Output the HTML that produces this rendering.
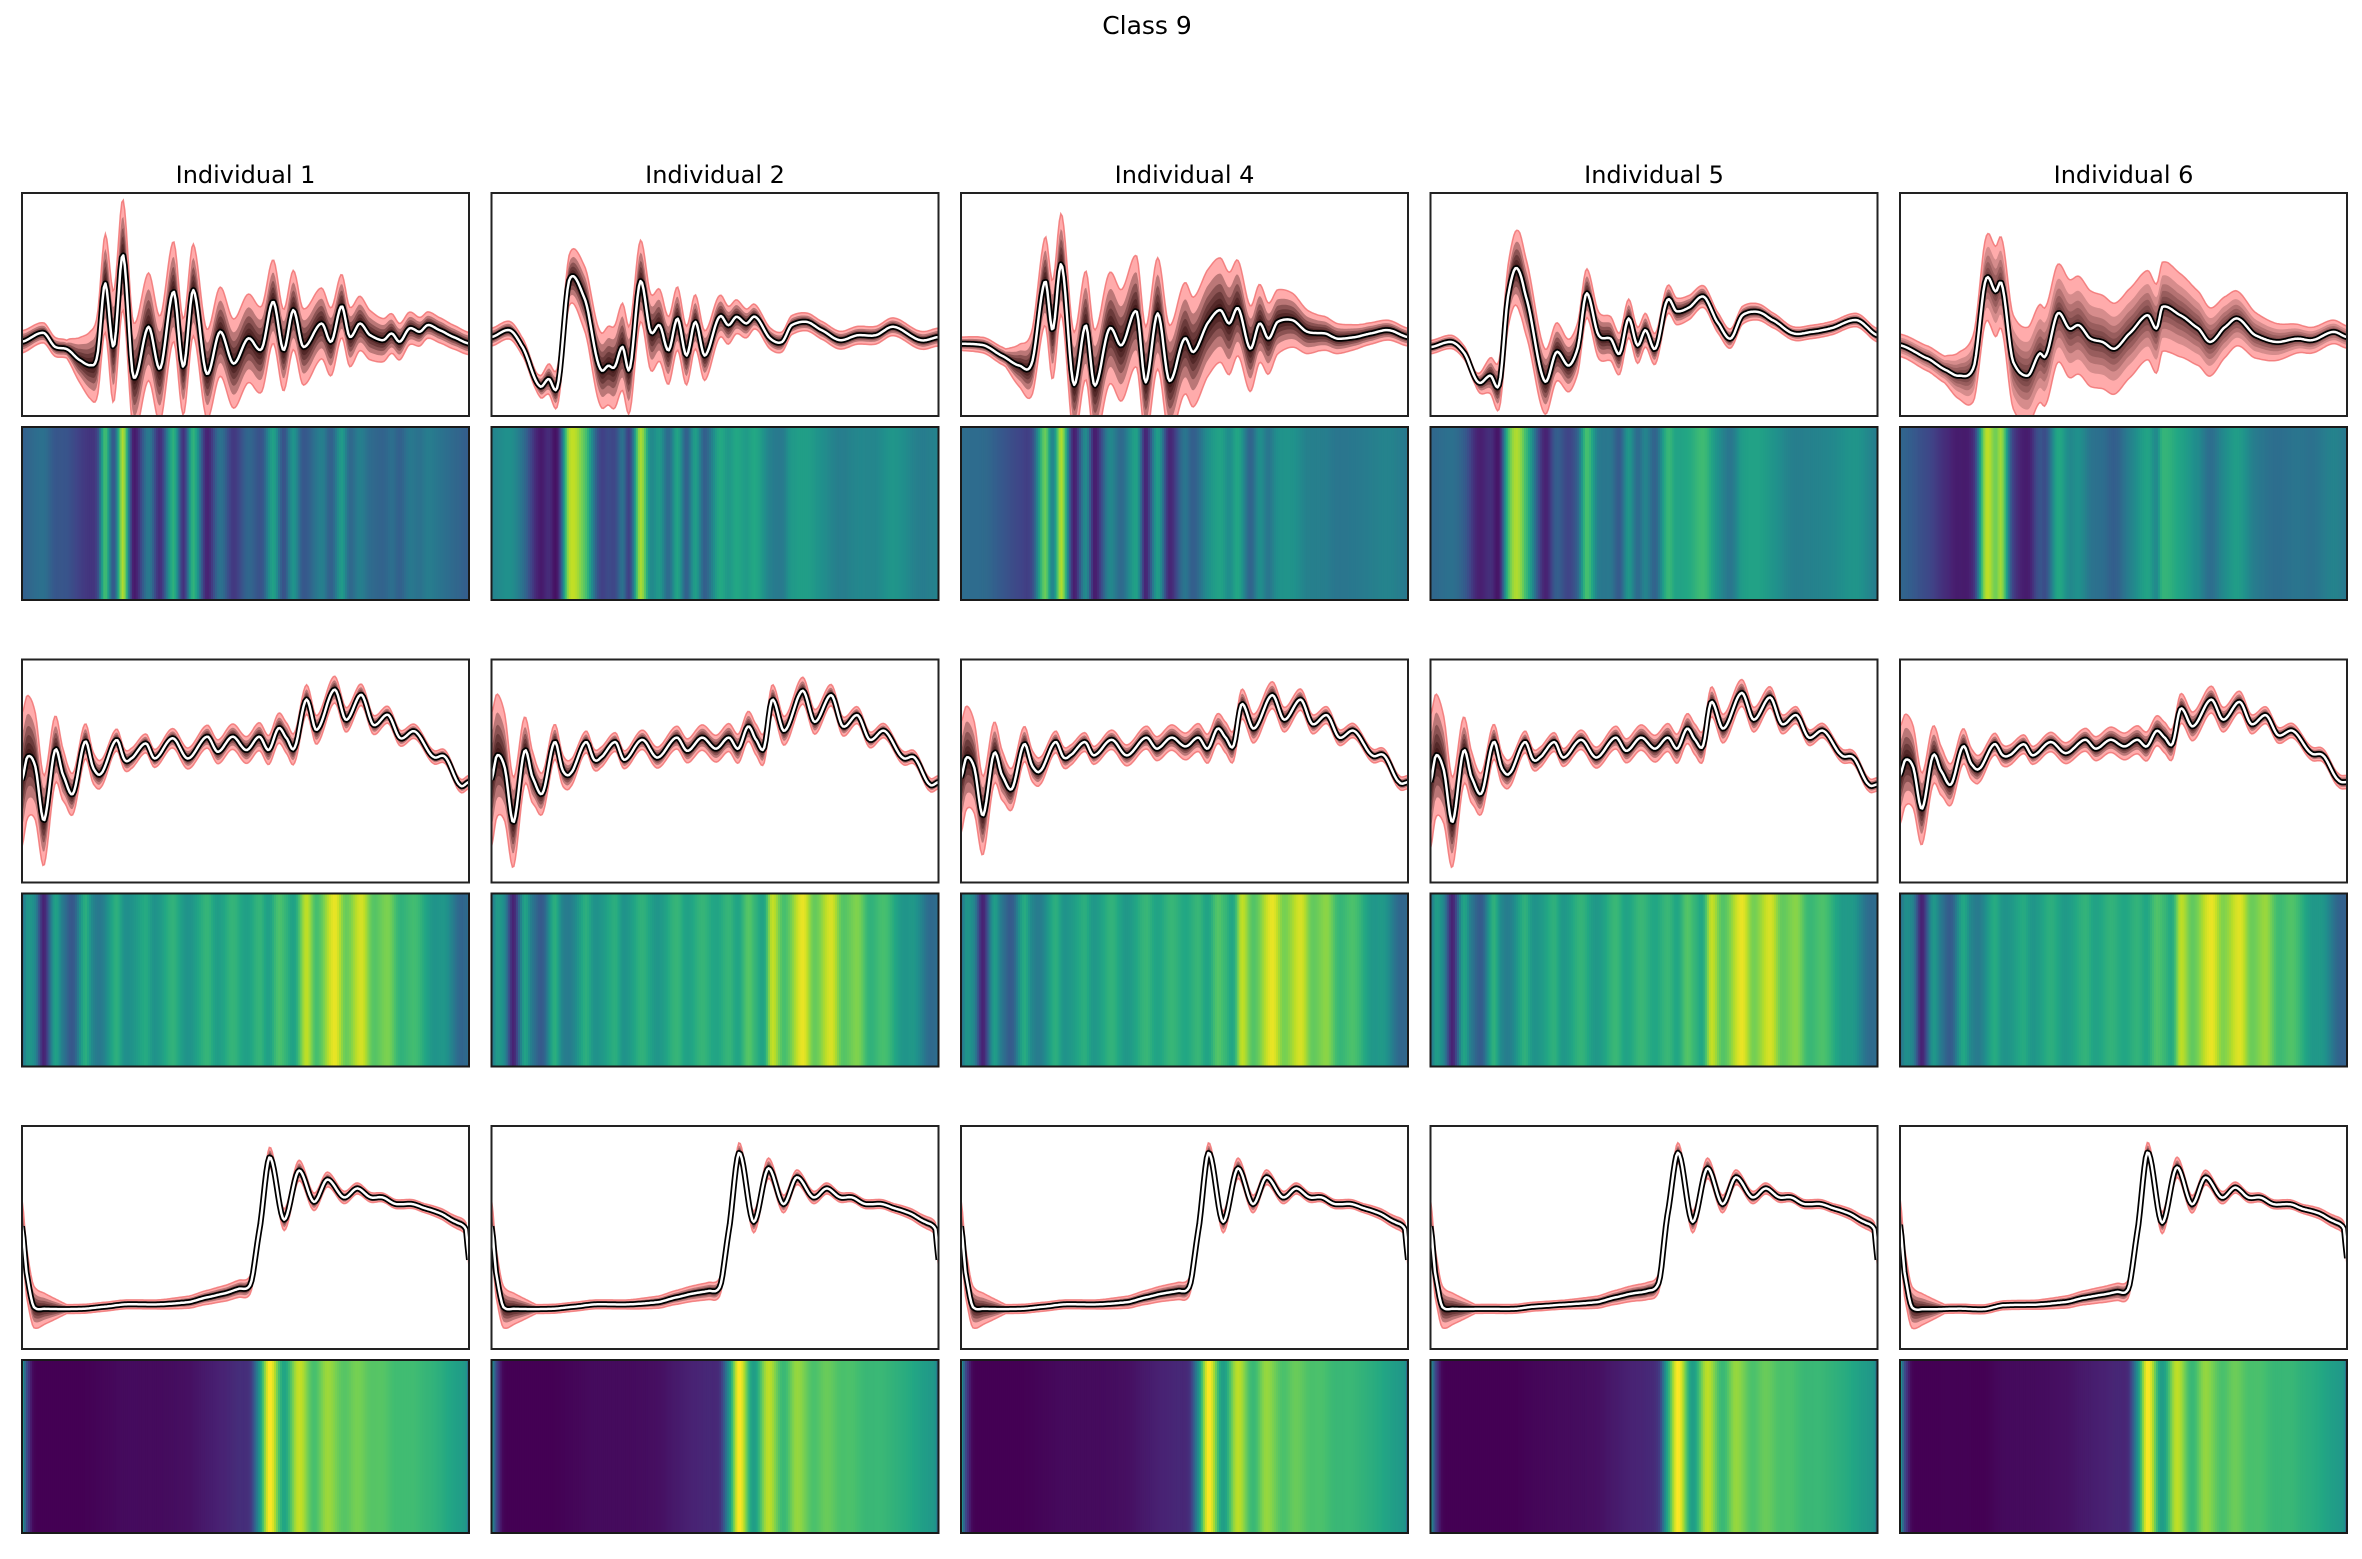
<!DOCTYPE html>
<html><head><meta charset="utf-8"><style>
html,body{margin:0;padding:0;background:#fff;}
svg text{font-family:"DejaVu Sans","Liberation Sans",sans-serif;fill:#000;}
</style></head><body>
<svg id="fig" width="2362" height="1554" viewBox="0 0 2362 1554" xmlns="http://www.w3.org/2000/svg">
<rect width="2362" height="1554" fill="#fff"/>
<text x="1147" y="34" font-size="25" text-anchor="middle">Class 9</text>
<g id="plots"></g>
</svg>
<script>
// ---- data (t in 0..100 time index, v in 0..1 normalized amplitude) ----
const individuals = ["Individual 1","Individual 2","Individual 4","Individual 5","Individual 6"];
const spreadT = [0,10,20,30,40,50,60,70,80,90,100];

// Row 1
const r1i1T = [0,4.8,7.4,10,13,15.3,16.8,18.6,20.5,22.6,24.9,28.3,30.9,33.9,36.1,38.3,41.3,44.3,47.3,50.6,53.6,56.2,58.5,60.7,62.9,67,69.2,71.5,73.3,75.6,77.8,80.8,82.7,84.5,86.7,89,90.8,93.4,96.4,100];
const r1i1V = [0.333,0.373,0.31,0.30,0.25,0.228,0.265,0.595,0.31,0.723,0.175,0.40,0.213,0.558,0.22,0.565,0.19,0.378,0.235,0.348,0.30,0.513,0.295,0.475,0.31,0.415,0.333,0.493,0.355,0.415,0.363,0.34,0.37,0.333,0.393,0.378,0.408,0.385,0.355,0.325];
const r1i1S = [0.05,0.04,0.25,0.24,0.2,0.2,0.18,0.15,0.1,0.06,0.05];

const r1i2T = [0,4,6.7,10.7,12.8,14.8,17.4,20.8,24.2,26.2,27.5,29.3,30.9,33.3,35.6,37.6,39.6,41.6,43.6,45.6,47.7,51,53,54.8,57,59,62.4,65,67.1,70.5,73.8,77.9,81.9,85.9,89.9,96,100];
const r1i2V = [0.354,0.385,0.317,0.136,0.166,0.136,0.611,0.528,0.219,0.226,0.219,0.31,0.211,0.604,0.377,0.407,0.294,0.437,0.271,0.422,0.271,0.445,0.407,0.445,0.415,0.445,0.347,0.332,0.407,0.422,0.385,0.34,0.362,0.362,0.40,0.34,0.354];
const r1i2S = [0.04,0.04,0.14,0.2,0.15,0.1,0.05,0.04,0.04,0.04,0.04];

const r1i4T = [0,5.1,9.1,13.1,15.8,18.8,20.5,22.5,25.2,27.9,29.9,33.2,35.9,39.3,41.3,44,46.6,50,52,55.4,58,60,62,64.7,66.8,68.8,70.8,74.1,77.5,81.5,84.2,88.2,91.6,95.6,100];
const r1i4V = [0.324,0.317,0.271,0.226,0.234,0.604,0.385,0.679,0.143,0.407,0.136,0.392,0.317,0.468,0.151,0.46,0.158,0.347,0.287,0.422,0.475,0.415,0.483,0.302,0.415,0.347,0.422,0.43,0.377,0.37,0.347,0.354,0.37,0.385,0.354];
const r1i4S = [0.03,0.04,0.22,0.25,0.25,0.25,0.23,0.15,0.08,0.05,0.04];

const r1i5T = [0,4.7,7.4,10.7,13.4,15.4,17.4,19.2,21.2,25.5,28.2,30.9,32.9,34.9,37.6,40.3,42.3,44.3,46.3,48.1,50.3,53,55,57.7,61.1,64.4,67.1,69.8,73.2,76.5,81.2,85.2,89.3,95.3,100];
const r1i5V = [0.309,0.332,0.287,0.151,0.181,0.143,0.543,0.664,0.543,0.158,0.287,0.226,0.302,0.55,0.362,0.347,0.279,0.437,0.317,0.385,0.302,0.52,0.47,0.485,0.535,0.415,0.347,0.452,0.467,0.43,0.37,0.377,0.392,0.43,0.362];
const r1i5S = [0.03,0.03,0.18,0.12,0.1,0.07,0.05,0.04,0.03,0.03,0.03];

const r1i6T = [0,6.4,10.5,13.1,16.5,19.2,21.4,22.8,25.2,28.6,31.2,32.6,35.3,37.9,40,42.6,45.3,48,51.3,55.4,57.4,58.7,62.7,66.8,69.4,72.8,75.5,79.5,84.2,88.9,92.2,96.9,100];
const r1i6V = [0.317,0.256,0.204,0.181,0.219,0.611,0.558,0.588,0.249,0.181,0.279,0.271,0.46,0.392,0.407,0.347,0.332,0.302,0.37,0.452,0.392,0.49,0.452,0.392,0.332,0.40,0.437,0.362,0.332,0.347,0.34,0.377,0.354];
const r1i6S = [0.05,0.06,0.2,0.22,0.22,0.2,0.2,0.15,0.1,0.06,0.05];

// Row 2
const r2i1T = [0,1.2,2.9,4.9,7.4,9.2,11.4,14.1,16,17.7,21.1,23,24.4,27.7,29.7,33.7,37.1,41.4,43.8,47.1,50.2,53.1,55.2,57.4,59.2,60.9,63.6,65.9,69.9,72.5,75.9,78.6,81.9,84.6,87.9,92,94.6,98,100];
const r2i1V = [0.459,0.564,0.526,0.278,0.594,0.481,0.398,0.632,0.511,0.489,0.639,0.549,0.556,0.624,0.556,0.647,0.556,0.654,0.586,0.654,0.594,0.654,0.594,0.692,0.647,0.602,0.82,0.684,0.865,0.729,0.842,0.707,0.752,0.647,0.677,0.564,0.564,0.436,0.451];
const r2i1S = [0.3,0.1,0.05,0.04,0.05,0.06,0.07,0.06,0.04,0.03,0.03];
const r2i2T = [0,1.2,2.9,4.9,7.4,9.2,11.4,14.1,16,17.7,21.1,23,24.4,27.7,29.7,33.7,37.1,41.4,43.8,47.1,50.2,53.1,55.2,57.4,59.2,60.9,62.8,65.5,69.6,72.3,76,78.6,81.9,84.6,87.9,92,94.6,98,100];
const r2i2V = [0.46,0.57,0.52,0.27,0.59,0.47,0.40,0.63,0.50,0.49,0.63,0.55,0.56,0.63,0.55,0.64,0.56,0.65,0.59,0.65,0.60,0.65,0.60,0.70,0.64,0.60,0.82,0.68,0.86,0.72,0.84,0.70,0.75,0.64,0.68,0.56,0.56,0.44,0.45];
const r2i2S = [0.3,0.1,0.05,0.04,0.05,0.06,0.07,0.06,0.04,0.03,0.03];
const r2i4T = r2i2T.slice();
const r2i4V = [0.47,0.56,0.52,0.30,0.58,0.48,0.42,0.62,0.52,0.50,0.63,0.56,0.57,0.63,0.57,0.64,0.57,0.65,0.60,0.65,0.61,0.65,0.60,0.69,0.65,0.61,0.80,0.69,0.84,0.73,0.82,0.71,0.75,0.65,0.68,0.57,0.57,0.45,0.45];
const r2i4S = [0.25,0.1,0.05,0.04,0.05,0.06,0.07,0.06,0.04,0.03,0.03];
const r2i5T = r2i2T.slice();
const r2i5V = [0.45,0.57,0.51,0.27,0.59,0.47,0.40,0.63,0.51,0.49,0.63,0.55,0.56,0.63,0.56,0.64,0.56,0.65,0.59,0.65,0.60,0.65,0.60,0.69,0.64,0.61,0.81,0.69,0.85,0.73,0.83,0.71,0.75,0.65,0.68,0.57,0.56,0.44,0.44];
const r2i5S = [0.3,0.1,0.05,0.04,0.05,0.06,0.07,0.06,0.04,0.03,0.03];
const r2i6T = r2i2T.slice();
const r2i6V = [0.48,0.55,0.52,0.33,0.57,0.50,0.44,0.61,0.53,0.51,0.62,0.57,0.57,0.62,0.57,0.63,0.58,0.64,0.60,0.64,0.61,0.64,0.61,0.68,0.65,0.62,0.78,0.70,0.82,0.73,0.81,0.71,0.75,0.66,0.68,0.58,0.57,0.46,0.45];
const r2i6S = [0.22,0.1,0.05,0.04,0.05,0.06,0.07,0.06,0.04,0.03,0.03];

// Row 3
const r3T = [0,1.1,2.6,5.2,13.4,18.7,23.1,30.6,37.3,41,45.5,48.5,51.1,53,55.4,58.6,61.9,65.3,68.3,72,75,78,80.6,83.6,87.3,90.3,93.3,97,99.3,100];
const r3i1V = [0.55,0.33,0.19,0.18,0.18,0.19,0.20,0.20,0.21,0.23,0.25,0.27,0.29,0.52,0.86,0.58,0.80,0.66,0.76,0.68,0.72,0.68,0.68,0.65,0.65,0.63,0.61,0.57,0.54,0.40];
const r3i2V = [0.55,0.33,0.19,0.18,0.18,0.19,0.20,0.20,0.21,0.23,0.25,0.26,0.28,0.52,0.88,0.57,0.81,0.65,0.77,0.68,0.72,0.68,0.68,0.65,0.65,0.63,0.61,0.57,0.54,0.40];
const r3i4V = [0.55,0.33,0.19,0.18,0.18,0.19,0.20,0.20,0.21,0.23,0.25,0.26,0.28,0.52,0.88,0.57,0.81,0.65,0.77,0.68,0.72,0.68,0.68,0.65,0.65,0.63,0.61,0.57,0.54,0.40];
const r3i5V = [0.55,0.33,0.19,0.18,0.18,0.18,0.19,0.20,0.21,0.23,0.25,0.26,0.30,0.60,0.88,0.57,0.81,0.65,0.77,0.68,0.72,0.68,0.68,0.65,0.65,0.63,0.61,0.57,0.54,0.40];
const r3i6V = [0.557,0.33,0.189,0.178,0.181,0.178,0.196,0.199,0.211,0.229,0.244,0.256,0.271,0.513,0.882,0.566,0.814,0.649,0.769,0.679,0.724,0.679,0.679,0.649,0.649,0.627,0.611,0.573,0.543,0.407];
const r3S = [0.12,0.02,0.02,0.02,0.03,0.04,0.05,0.03,0.02,0.02,0.03];

const panels = [
 [[r1i1T,r1i1V,r1i1S],[r1i2T,r1i2V,r1i2S],[r1i4T,r1i4V,r1i4S],[r1i5T,r1i5V,r1i5S],[r1i6T,r1i6V,r1i6S]],
 [[r2i1T,r2i1V,r2i1S],[r2i2T,r2i2V,r2i2S],[r2i4T,r2i4V,r2i4S],[r2i5T,r2i5V,r2i5S],[r2i6T,r2i6V,r2i6S]],
 [[r3T,r3i1V,r3S],[r3T,r3i2V,r3S],[r3T,r3i4V,r3S],[r3T,r3i5V,r3S],[r3T,r3i6V,r3S]]
];

// ---- layout ----
const NS="http://www.w3.org/2000/svg";
const X0=22, COLP=469.5, PW=447, Y0=193, ROWP=466.5, LH=223, HOFF=234, HH=173;
const cmapLo=[0.08,0.1,0.0], cmapSpan=[0.8,0.87,1.0];
const VIR=[[68,1,84],[72,35,116],[64,67,135],[52,94,141],[41,120,142],[32,144,140],[34,167,132],[68,190,112],[121,209,81],[189,222,38],[253,231,37]];
function viridis(c){c=Math.max(0,Math.min(1,c));const f=c*10,i=Math.min(9,Math.floor(f)),r=f-i;const a=VIR[i],b=VIR[i+1];return `rgb(${Math.round(a[0]+(b[0]-a[0])*r)},${Math.round(a[1]+(b[1]-a[1])*r)},${Math.round(a[2]+(b[2]-a[2])*r)})`;}
function curve(ts,vs,t){let k=0;while(k<ts.length-2&&t>ts[k+1])k++;
 const t0=ts[k],t1=ts[k+1],u=(t1>t0)?(t-t0)/(t1-t0):0;
 const p0=vs[Math.max(0,k-1)],p1=vs[k],p2=vs[k+1],p3=vs[Math.min(vs.length-1,k+2)];
 const m1=(p2-p0)/2*0.8,m2=(p3-p1)/2*0.8;const u2=u*u,u3=u2*u;
 return (2*u3-3*u2+1)*p1+(u3-2*u2+u)*m1+(-2*u3+3*u2)*p2+(u3-u2)*m2;}
function lin(ts,vs,t){let k=0;while(k<ts.length-2&&t>ts[k+1])k++;const u=(t-ts[k])/(ts[k+1]-ts[k]);return vs[k]+(vs[k+1]-vs[k])*u;}
function el(tag,attrs,parent){const e=document.createElementNS(NS,tag);for(const k in attrs)e.setAttribute(k,attrs[k]);parent.appendChild(e);return e;}

const root=document.getElementById('plots');
const N=300;
panels.forEach((row,r)=>{
 row.forEach((p,c)=>{
  const [ts,vs,ss]=p;
  const px=X0+c*COLP, py=Y0+r*ROWP, hy=py+HOFF;
  const xs=t=>px+t/100*PW, ys=v=>py+LH-v*LH;
  if(r===0){const tt=el('text',{x:px+PW/2,y:183,'font-size':24,'text-anchor':'middle'},root);tt.textContent=individuals[c];
   
   }
  const g=el('g',{},root);
  
  
  const cid=`clip${r}_${c}`;
  const cp=el('clipPath',{id:cid},g);el('rect',{x:px,y:py,width:PW,height:LH},cp);
  const inner=el('g',{'clip-path':`url(#${cid})`},g);
  const mean=[],sp=[];
  for(let i=0;i<=N;i++){const t=i/N*100;mean.push(curve(ts,vs,t));sp.push(lin(spreadT,ss,t));}
  function band(f,fill,stroke){let up='',dn='';
   for(let i=0;i<=N;i++){const t=i/N*100;up+=(i?'L':'M')+xs(t).toFixed(1)+','+ys(mean[i]+sp[i]*f).toFixed(1);}
   for(let i=N;i>=0;i--){const t=i/N*100;dn+='L'+xs(t).toFixed(1)+','+ys(mean[i]-sp[i]*f).toFixed(1);}
   const b=el('path',{d:up+dn+'Z',fill:fill,stroke:stroke||'none','stroke-width':1.5},inner);return b;}
  const rb=band(1,'rgba(255,150,150,0.8)','rgba(240,110,110,0.8)');
  
  
  const dens=(r===0&&c===4)?0.18:0.3;
  [0.7,0.5,0.35,0.22,0.12].forEach(f=>band(f,`rgba(30,0,0,${dens})`));
  let d='';for(let i=0;i<=N;i++){const t=i/N*100;d+=(i?'L':'M')+xs(t).toFixed(1)+','+ys(mean[i]).toFixed(1);}
  el('path',{d:d,fill:'none',stroke:'#000','stroke-width':6,'stroke-linejoin':'round'},inner);
  const ml=el('path',{d:d,fill:'none',stroke:'#fff','stroke-width':2.5,'stroke-linejoin':'round'},inner);
  
  
  el('rect',{x:px,y:py,width:PW,height:LH,fill:'none',stroke:'#222','stroke-width':2},g);
  // heatmap
  const hg=el('g',{},root);
  
  
  const mn=Math.min(...vs),mx=Math.max(...vs);
  const HN=220;
  for(let i=0;i<HN;i++){const t=(i+0.5)/HN*100;const v=curve(ts,vs,t);
   el('rect',{x:(px+i/HN*PW).toFixed(2),y:hy,width:(PW/HN+0.6).toFixed(2),height:HH,fill:viridis(cmapLo[r]+cmapSpan[r]*(v-mn)/(mx-mn))},hg);}
  el('rect',{x:px,y:hy,width:PW,height:HH,fill:'none',stroke:'#1a1a1a','stroke-width':2},hg);
 });
});
</script>
</body></html>
